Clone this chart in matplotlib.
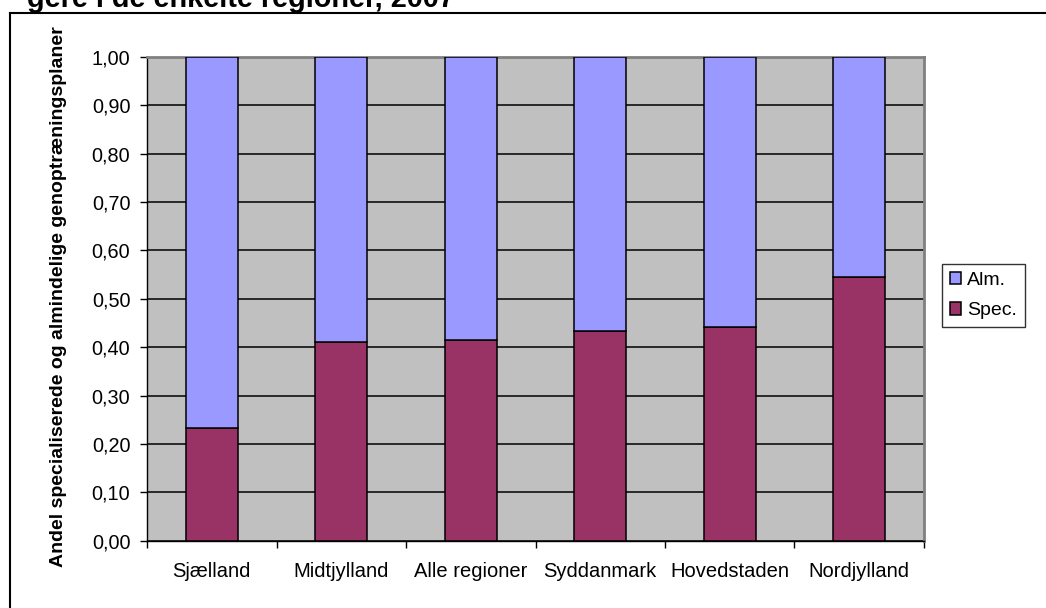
import numpy as np
import matplotlib
matplotlib.use("Agg")
import matplotlib.pyplot as plt
from matplotlib.lines import Line2D
from matplotlib.ticker import FuncFormatter

# Data
regioner = ["Sjælland", "Midtjylland", "Alle regioner", "Syddanmark", "Hovedstaden", "Nordjylland"]
spec = [0.233, 0.410, 0.414, 0.434, 0.441, 0.546]
alm = [1 - v for v in spec]

plt.rcParams['font.family'] = ['Liberation Sans', 'DejaVu Sans']

W, H = 1046, 608
fig = plt.figure(figsize=(W / 100, H / 100), dpi=100)

# Plot area in pixel coords
x0, x1 = 147, 924
y_top, y_bot = 57, 540.7
ax = fig.add_axes([x0 / W, 1 - y_bot / H, (x1 - x0) / W, (y_bot - y_top) / H])
ax.set_facecolor('#C0C0C0')

x = np.arange(len(regioner))
bw = 0.405
ax.bar(x, spec, bw, color='#993366', edgecolor='black', linewidth=1.1, label='Spec.', zorder=3)
ax.bar(x, alm, bw, bottom=spec, color='#9999FF', edgecolor='black', linewidth=1.1, label='Alm.', zorder=3)

ax.set_xlim(-0.5, len(regioner) - 0.5)
ax.set_ylim(0, 1.0)
ax.set_yticks(np.arange(0, 1.01, 0.1))
ax.yaxis.set_major_formatter(FuncFormatter(lambda v, p: f"{v:.2f}".replace('.', ',')))
ax.grid(axis='y', color='black', linewidth=1.1, zorder=1)
ax.set_axisbelow(True)

# categories labels at centres, tick marks at boundaries
ax.set_xticks(x)
ax.set_xticklabels(regioner)
ax.set_xticks(np.arange(-0.5, len(regioner)), minor=True)
ax.tick_params(axis='x', which='major', length=0, pad=15, labelsize=14.5)
ax.tick_params(axis='x', which='minor', length=5, width=1, direction='out', color='black')
ax.tick_params(axis='y', length=5, width=1, direction='out', pad=7, labelsize=14.3)

for s in ['top', 'right']:
    ax.spines[s].set_color('#808080')
    ax.spines[s].set_linewidth(2)
for s in ['left', 'bottom']:
    ax.spines[s].set_color('black')
    ax.spines[s].set_linewidth(1)

ax.set_ylabel('Andel specialiserede og almindelige genoptræningsplaner',
              fontsize=14, fontweight='bold')
ax.yaxis.set_label_coords((67 - x0) / (x1 - x0), (y_bot - 297) / (y_bot - y_top))

# Legend (Alm. first)
handles, labels = ax.get_legend_handles_labels()
leg = fig.legend(handles[::-1], labels[::-1], loc='upper left',
                 bbox_to_anchor=(942 / W, 1 - 264 / H), fontsize=14,
                 frameon=True, fancybox=False, edgecolor='black',
                 handlelength=0.6, handleheight=0.6, handletextpad=0.3,
                 borderpad=0.4, labelspacing=0.7, borderaxespad=0)
leg.get_frame().set_linewidth(1)

# Chart frame (only top and left visible)
fig.add_artist(Line2D([10 / W, 1.0], [1 - 13 / H, 1 - 13 / H], color='black', linewidth=1.5))
fig.add_artist(Line2D([10 / W, 10 / W], [0, 1 - 13 / H], color='black', linewidth=1.5))

# Title, cut off at the top
fig.text(27 / W, 1 - 7 / H, 'gere i de enkelte regioner, 2007', fontsize=20.8,
         fontweight='bold', ha='left', va='baseline')

fig.savefig('out.png', dpi=100)
